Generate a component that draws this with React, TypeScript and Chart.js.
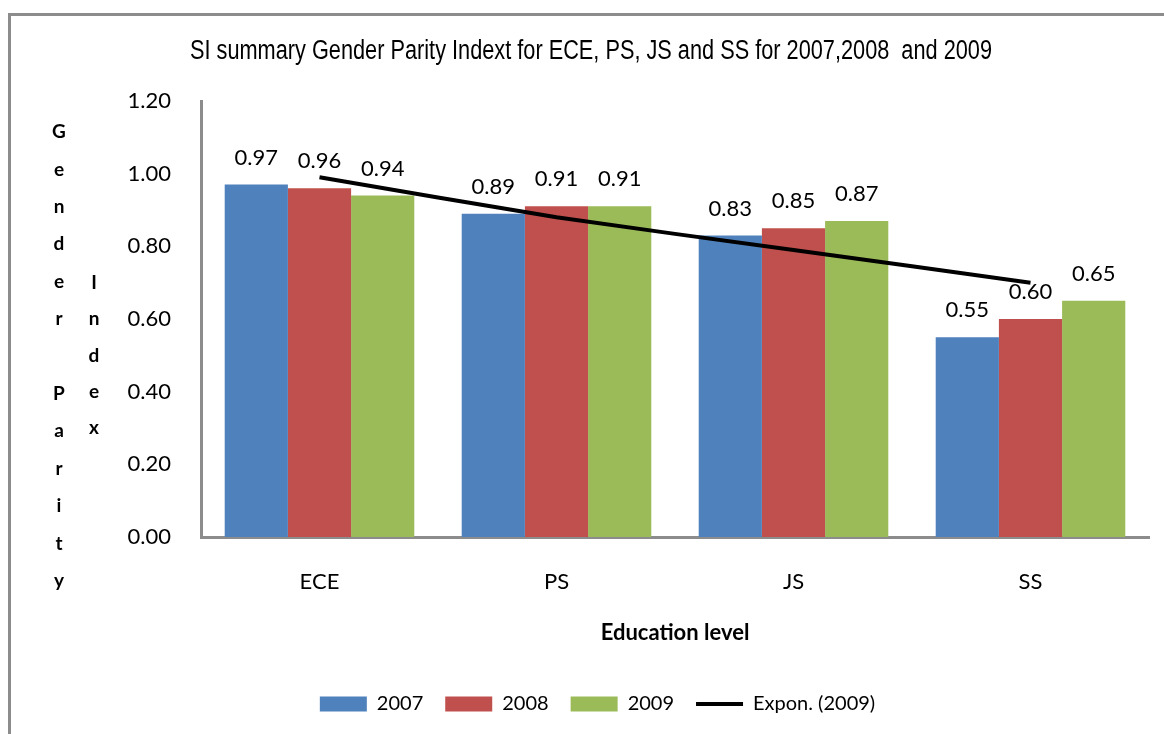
import React, { useEffect, useRef } from "react";
import { Chart, registerables } from "chart.js";

Chart.register(...registerables);

const categories = ["ECE", "PS", "JS", "SS"];
const values2007 = [0.97, 0.89, 0.83, 0.55];
const values2008 = [0.96, 0.91, 0.85, 0.6];
const values2009 = [0.94, 0.91, 0.87, 0.65];
const trend2009 = [0.99, 0.88, 0.79, 0.7];
const seriesLabels = ["2007", "2008", "2009", "Expon. (2009)"];
const titleText = "SI summary Gender Parity Indext for ECE, PS, JS and SS for 2007,2008  and 2009";
const yTitleCol1 = "Gender Parity";
const yTitleCol2 = "Index";
const xTitle = "Education level";

const BLUE = "#4F81BD";
const RED = "#C0504D";
const GREEN = "#9BBB59";
const AXIS = "#8c8c8c";
const FONT = "Lato, 'Open Sans', sans-serif";

const framePlugin = {
  id: "frame",
  beforeDraw(chart: any) {
    const ctx = chart.ctx;
    ctx.save();
    ctx.fillStyle = "#ffffff";
    ctx.fillRect(0, 0, chart.width, chart.height);
    ctx.strokeStyle = AXIS;
    ctx.lineWidth = 3;
    ctx.beginPath();
    ctx.moveTo(9.5, chart.height);
    ctx.lineTo(9.5, 14.5);
    ctx.lineTo(chart.width, 14.5);
    ctx.stroke();
    ctx.restore();
  },
};

// Condensed title (the original uses a narrow typeface)
const titlePlugin = {
  id: "condensedTitle",
  afterDraw(chart: any) {
    const ctx = chart.ctx;
    ctx.save();
    ctx.font = "27px 'Liberation Sans', Arial, sans-serif";
    const w = ctx.measureText(titleText).width;
    const sx = 802 / w;
    ctx.translate(591, 59);
    ctx.scale(sx, 1);
    ctx.fillStyle = "#000";
    ctx.textAlign = "center";
    ctx.textBaseline = "alphabetic";
    ctx.fillText(titleText, 0, 0);
    ctx.restore();
  },
};

const yTitlePlugin = {
  id: "yTitleLetters",
  afterDraw(chart: any) {
    const ctx = chart.ctx;
    ctx.save();
    ctx.font = `bold 19px ${FONT}`;
    ctx.fillStyle = "#000";
    ctx.textAlign = "center";
    ctx.textBaseline = "middle";
    Array.from(yTitleCol1).forEach((ch, i) => ctx.fillText(ch, 59, 132 + i * 37.4));
    Array.from(yTitleCol2).forEach((ch, i) => ctx.fillText(ch, 94, 283 + i * 36.3));
    ctx.restore();
  },
};

const dataLabelPlugin = {
  id: "barValues",
  beforeDatasetsDraw(chart: any) {
    const ctx = chart.ctx;
    ctx.save();
    ctx.font = `22px ${FONT}`;
    ctx.fillStyle = "#000";
    ctx.textAlign = "center";
    ctx.textBaseline = "middle";
    chart.data.datasets.forEach((ds: any, di: number) => {
      if (ds.type === "line") return;
      const meta = chart.getDatasetMeta(di);
      meta.data.forEach((el: any, i: number) => {
        ctx.fillText(Number(ds.data[i]).toFixed(2), el.x, el.y - 27);
      });
    });
    ctx.restore();
  },
};

export default function App() {
  const ref = useRef<HTMLCanvasElement | null>(null);

  useEffect(() => {
    if (!ref.current) return;
    Chart.defaults.font.family = FONT;
    Chart.defaults.color = "#000";
    const chart = new Chart(ref.current, {
      type: "bar",
      data: {
        labels: categories,
        datasets: [
          { type: "bar", label: seriesLabels[0], data: values2007, backgroundColor: BLUE, order: 1, categoryPercentage: 0.8, barPercentage: 1.0 },
          { type: "bar", label: seriesLabels[1], data: values2008, backgroundColor: RED, order: 1, categoryPercentage: 0.8, barPercentage: 1.0 },
          { type: "bar", label: seriesLabels[2], data: values2009, backgroundColor: GREEN, order: 1, categoryPercentage: 0.8, barPercentage: 1.0 },
          { type: "line", label: seriesLabels[3], data: trend2009, borderColor: "#000", backgroundColor: "#000", borderWidth: 4, pointRadius: 0, tension: 0.2, order: 0 } as any,
        ],
      },
      options: {
        responsive: false,
        animation: false,
        devicePixelRatio: 1,
        layout: { padding: { top: 101, left: 46, right: 15, bottom: 10 } },
        plugins: {
          tooltip: { enabled: false },
          title: { display: false },
          legend: {
            display: true,
            position: "bottom",
            labels: {
              usePointStyle: true,
              pointStyleWidth: 47,
              boxHeight: 15,
              padding: 22,
              color: "#000",
              font: { size: 20, family: FONT },
              sort: (a: any, b: any) => a.datasetIndex - b.datasetIndex,
              generateLabels: (chart: any) => {
                const items = Chart.defaults.plugins.legend.labels.generateLabels(chart);
                return items.map((it: any) => {
                  const isLine = it.datasetIndex === 3;
                  return {
                    ...it,
                    pointStyle: isLine ? "line" : "rect",
                    lineWidth: isLine ? 4 : 0,
                    strokeStyle: isLine ? "#000" : it.fillStyle,
                  };
                });
              },
            },
          },
        },
        scales: {
          x: {
            grid: { display: false, drawTicks: false },
            border: { display: true, color: AXIS, width: 3 },
            ticks: { padding: 32, font: { size: 22, family: FONT }, color: "#000" },
            title: { display: true, text: xTitle, color: "#000", font: { size: 22, weight: "bold", family: FONT }, padding: { top: 10, bottom: 26 } },
            afterFit: (scale: any) => {
              scale.height = 135;
            },
          },
          y: {
            min: 0,
            max: 1.2,
            grid: { display: false, drawTicks: false },
            border: { display: true, color: AXIS, width: 3 },
            ticks: {
              stepSize: 0.2,
              padding: 30,
              font: { size: 22, family: FONT },
              color: "#000",
              callback: (v: any) => Number(v).toFixed(2),
            },
            afterFit: (scale: any) => {
              scale.width = 155;
            },
          },
        },
      } as any,
      plugins: [framePlugin, dataLabelPlugin, titlePlugin, yTitlePlugin],
    });
    return () => chart.destroy();
  }, []);

  return (
    <div style={{ position: "fixed", left: 0, top: 0, width: 1164, height: 734, background: "#fff" }}>
      <canvas ref={ref} width={1164} height={734} style={{ display: "block" }} />
    </div>
  );
}
